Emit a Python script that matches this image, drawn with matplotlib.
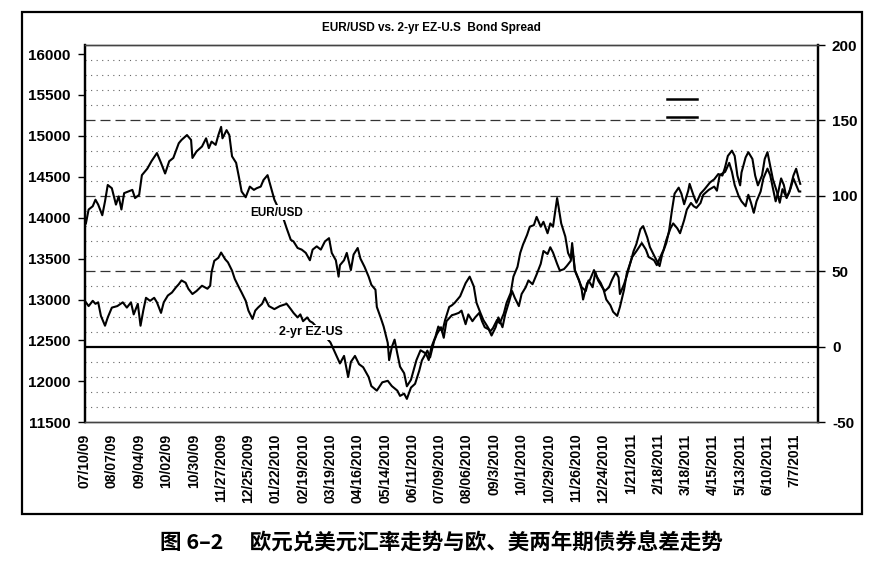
import matplotlib
matplotlib.use('Agg')
import matplotlib.pyplot as plt
from matplotlib.patches import Rectangle
from matplotlib.lines import Line2D

plt.rcParams['font.family'] = ['Liberation Sans', 'DejaVu Sans']
plt.rcParams['font.weight'] = 'bold'
plt.rcParams['axes.unicode_minus'] = False

# business days counted from 07/10/09
eur_day = [1, 3, 6, 8, 10, 13, 15, 17, 20, 23, 25, 27, 29, 32, 35, 37, 40, 42, 46, 49,
           53, 56, 59, 62, 65, 69, 71, 75, 78, 79, 82, 86, 89, 91, 93, 96, 98, 100, 101, 104,
           106, 108, 111, 113, 115, 118, 121, 124, 126, 129, 131, 134, 136, 139, 146, 148, 151, 153, 156, 159,
           162, 165, 167, 170, 173, 176, 179, 181, 184, 186, 187, 190, 192, 195, 197, 200, 202, 205, 208, 210,
           213, 214, 217, 219, 222, 223, 225, 227, 229, 231, 234, 236, 239, 241, 243, 246, 250, 252, 254, 257,
           259, 262, 264, 267, 269, 271, 275, 279, 282, 285, 287, 290, 292, 295, 297, 299, 302, 304, 307, 309,
           312, 314, 317, 319, 321, 324, 326, 329, 331, 334, 336, 339, 341, 343, 346, 347, 349, 352, 354, 356,
           357, 359, 362, 364, 365, 368, 370, 373, 375, 378, 380, 382, 385, 387, 390, 392, 395, 397, 401, 404,
           408, 411, 413, 417, 419, 421, 424, 426, 429, 431, 434, 436, 439, 441, 444, 446, 448, 451, 453, 457,
           461, 463, 465, 469, 472, 474, 476, 479, 481, 484, 486, 488, 490, 492, 495, 497, 500, 502, 504, 506,
           508, 510, 512, 514, 517, 519, 521, 523, 524]
eur_usd = [13930, 14100, 14140, 14220, 14160, 14030, 14200, 14400, 14360, 14160, 14260, 14100, 14300, 14320, 14340, 14240, 14280, 14520, 14600, 14690,
           14790, 14670, 14540, 14690, 14730, 14910, 14950, 15010, 14950, 14730, 14810, 14870, 14970, 14850, 14930, 14890, 15010, 15110, 14970, 15070,
           15010, 14750, 14670, 14500, 14320, 14250, 14380, 14340, 14360, 14380, 14460, 14520, 14400, 14220, 13970, 13870, 13730, 13710, 13630, 13610,
           13570, 13480, 13610, 13650, 13610, 13710, 13750, 13570, 13480, 13280, 13420, 13480, 13570, 13360, 13550, 13630, 13500, 13400, 13280, 13180,
           13120, 12910, 12770, 12670, 12470, 12260, 12420, 12510, 12340, 12180, 12100, 11940, 12020, 12140, 12260, 12380, 12340, 12260, 12420, 12550,
           12670, 12610, 12750, 12910, 12930, 12960, 13040, 13200, 13280, 13160, 12960, 12830, 12750, 12670, 12610, 12650, 12750, 12710, 12830, 12960,
           13080, 13280, 13400, 13570, 13670, 13790, 13890, 13910, 14010, 13890, 13950, 13810, 13930, 13890, 14240, 14140, 13930, 13770, 13570, 13500,
           13690, 13360, 13240, 13120, 13000, 13200, 13240, 13360, 13280, 13200, 13120, 13000, 12930, 12850, 12800, 12910, 13120, 13320, 13520, 13590,
           13690, 13610, 13520, 13480, 13420, 13500, 13610, 13730, 13870, 13930, 13870, 13810, 13970, 14100, 14180, 14140, 14120, 14180, 14280, 14340,
           14380, 14330, 14520, 14560, 14670, 14560, 14400, 14260, 14200, 14140, 14280, 14180, 14060, 14200, 14320, 14480, 14600, 14520, 14360, 14200,
           14320, 14480, 14400, 14240, 14360, 14480, 14400, 14320, 14320]

spread_day = [1, 3, 6, 8, 10, 12, 15, 17, 20, 24, 28, 31, 34, 36, 39, 41, 43, 45, 48, 51,
              53, 56, 58, 61, 64, 67, 69, 71, 74, 76, 79, 82, 86, 90, 92, 93, 95, 98, 100, 103,
              105, 108, 110, 113, 115, 118, 120, 123, 125, 127, 130, 132, 135, 139, 143, 148, 151, 153, 156, 158,
              160, 163, 165, 167, 180, 185, 187, 190, 193, 195, 198, 201, 204, 208, 210, 214, 218, 222, 225, 229,
              231, 234, 236, 239, 242, 245, 247, 251, 253, 256, 258, 261, 263, 265, 269, 271, 274, 276, 279, 281,
              284, 286, 289, 291, 293, 296, 298, 301, 303, 306, 308, 311, 313, 315, 318, 320, 323, 325, 328, 331,
              334, 336, 339, 341, 343, 346, 348, 351, 353, 356, 357, 359, 362, 364, 367, 369, 372, 374, 376, 379,
              381, 384, 386, 389, 391, 392, 395, 397, 400, 402, 404, 407, 409, 412, 414, 417, 419, 421, 423, 426,
              428, 430, 432, 435, 437, 439, 442, 443, 446, 448, 451, 454, 458, 461, 464, 467, 469, 471, 474, 476,
              478, 480, 481, 484, 486, 489, 491, 493, 496, 498, 500, 502, 504, 507, 509, 511, 514, 516, 519, 521,
              523, 524]
spread_bp = [29.5, 27, 30.5, 28.5, 29.5, 20.5, 14, 19.5, 26, 27, 29.5, 26, 29.5, 21.5, 28.5, 14, 24, 32.5, 30.5, 32.5,
             29.5, 22.5, 29.5, 34, 36, 39.5, 41.5, 44, 42.5, 38.5, 35, 37, 40.5, 38.5, 40.5, 49.5, 57, 59, 62.5, 58,
             56, 50.5, 45, 39.5, 36, 30.5, 24, 18.5, 24, 26, 28.5, 32.5, 27, 25, 27, 28.5, 25, 22.5, 19.5, 21.5,
             17, 19.5, 17, 16, 3, -7, -11, -6, -20, -10, -6, -11.5, -13.5, -20, -26, -29, -23.5, -22.5, -26, -29,
             -32.5, -31, -34.5, -27, -24.5, -16, -9, -2.5, -7, 4, 8.5, 13, 6, 17, 21, 21.5, 22.5, 24, 15, 21.5,
             17, 19.5, 22.5, 17, 13, 11.5, 7.5, 13, 19.5, 13, 21.5, 30.5, 37, 32.5, 27, 35, 39.5, 44, 41.5, 48,
             55, 63.5, 61.5, 66, 62.5, 55, 50.5, 51.5, 53.5, 57, 66, 50.5, 44, 39.5, 37, 44, 39.5, 49.5, 44, 39.5,
             37, 39.5, 44, 49.5, 46, 35, 41.5, 47, 57, 63.5, 68, 78, 80, 72.5, 66, 60.5, 57, 53.5, 61.5, 69,
             77, 90, 101.5, 105.5, 101.5, 94.5, 103.5, 108, 100, 95.5, 101.5, 104.5, 109, 111, 114.5, 113.5, 119, 126.5, 130, 126.5,
             113.5, 107, 115.5, 125.5, 129, 124.5, 113.5, 107, 113.5, 124.5, 129, 120, 111, 102.5, 95.5, 104.5, 99, 102.5, 113.5, 118,
             111, 108]

tick_days = list(range(0, 521, 20))
tick_labels = ['07/10/09', '08/07/09', '09/04/09', '10/02/09', '10/30/09', '11/27/2009', '12/25/2009',
               '01/22/2010', '02/19/2010', '03/19/2010', '04/16/2010', '05/14/2010', '06/11/2010',
               '07/09/2010', '08/06/2010', '09/3/2010', '10/1/2010', '10/29/2010', '11/26/2010',
               '12/24/2010', '1/21/2011', '2/18/2011', '3/18/2011', '4/15/2011', '5/13/2011',
               '6/10/2011', '7/7/2011']

fig = plt.figure(figsize=(8.87, 5.67), dpi=100)

# frame round the whole chart
fig.patches.append(Rectangle((22 / 887, 1 - 514 / 567), 840 / 887, 502 / 567,
                             transform=fig.transFigure, fill=False, lw=1.6, ec='black'))

ax = fig.add_axes([0.0953, 0.2552, 0.8269, 0.6654])
ax2 = ax.twinx()
ax.set_zorder(ax2.get_zorder() + 1)
ax.patch.set_visible(False)

ax.set_xlim(0, 537)
ax.set_ylim(11500, 16110)
ax2.set_ylim(-50, 200)

# horizontal grid on the right scale
for v in range(-40, 200, 10):
    if v == 0:
        ax2.axhline(v, color='black', lw=1.6, zorder=1)
    elif v % 50 == 0:
        ax2.axhline(v, color='#333333', lw=0.9, ls=(0, (8, 4)), zorder=1)
    else:
        ax2.axhline(v, color='#666666', lw=0.8, ls=(0, (1, 4)), zorder=1)

ax.plot(eur_day, eur_usd, color='black', lw=1.5, zorder=3)
ax2.plot(spread_day, spread_bp, color='black', lw=1.5, zorder=3)

ax.text(141, 14060, 'EUR/USD', ha='center', va='center', fontsize=8.5, zorder=5,
        bbox=dict(fc='white', ec='none', pad=1))
ax.text(166, 12600, '2-yr EZ-US', ha='center', va='center', fontsize=9, zorder=5,
        bbox=dict(fc='white', ec='none', pad=1))

ax.set_yticks(range(11500, 16001, 500))
ax2.set_yticks(range(-50, 201, 50))
ax.tick_params(axis='y', direction='out', length=5, width=1, labelsize=11, pad=5)
ax2.tick_params(axis='y', direction='out', length=5, width=1, labelsize=11, pad=5)

ax.set_xticks(tick_days)
ax.set_xticklabels(tick_labels, rotation=90, fontsize=10)
ax.tick_params(axis='x', length=0, pad=8)

for a in (ax, ax2):
    a.spines['left'].set_linewidth(1.6)
    a.spines['right'].set_linewidth(1.6)
    a.spines['top'].set_linewidth(1.0)
    a.spines['bottom'].set_linewidth(1.0)
    a.spines['top'].set_color('#444444')
    a.spines['bottom'].set_color('#444444')

# legend keys without text, as in the scan
keys = [Line2D([], [], color='black', lw=1.8), Line2D([], [], color='black', lw=1.8)]
ax.legend(keys, ['', ''], loc='center', bbox_to_anchor=(682 / 887, 1 - 109 / 567),
          bbox_transform=fig.transFigure, frameon=False, handlelength=2.2,
          handletextpad=0, labelspacing=0.3, fontsize=10, borderpad=0)

fig.text(431 / 887, 1 - 28 / 567, 'EUR/USD vs. 2-yr EZ-U.S  Bond Spread',
         ha='center', va='center', fontsize=8.5)

fig.text(441 / 887, 1 - 543 / 567, '图 6–2\u3000 欧元兑美元汇率走势与欧、美两年期债券息差走势',
         ha='center', va='center', fontsize=15.5, weight='bold',
         family=['Noto Sans CJK SC', 'DejaVu Sans'])

fig.savefig('out.png', dpi=100)
